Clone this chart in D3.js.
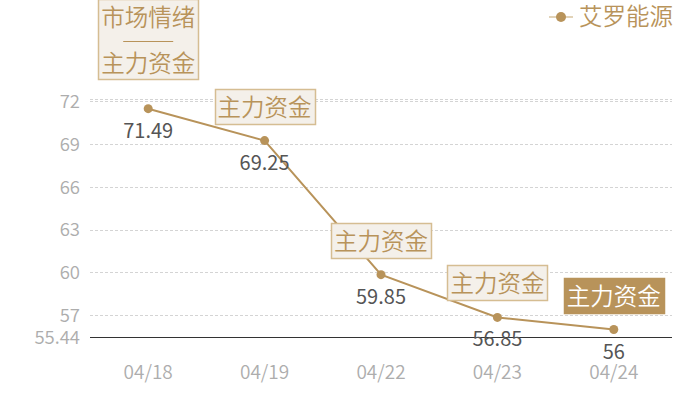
<!DOCTYPE html>
<html>
<head>
<meta charset="utf-8">
<script src="https://cdn.jsdelivr.net/npm/d3@7"></script>
<style>
  body { margin: 0; background: #fff; }
  text { font-family: "Noto Sans CJK SC", "Noto Sans", sans-serif; font-weight: 350; }
</style>
</head>
<body>
<script>
// Chart data
const dates = ['04/18', '04/19', '04/22', '04/23', '04/24'];
const values = [71.49, 69.25, 59.85, 56.85, 56];
const tags = [['市场情绪', '——', '主力资金'], ['主力资金'], ['主力资金'], ['主力资金'], ['主力资金']];
const yTicks = [57, 60, 63, 66, 69, 72];
const seriesName = '艾罗能源';

const width = 700, height = 400;
const margin = {left: 90, right: 28, top: 0, bottom: 63};
const gold = '#b8935a';

const svg = d3.select('body').append('svg')
  .attr('width', width)
  .attr('height', height);

// Axis range padded 1% around the data
const yMin = d3.min(values) * 0.99;
const yMax = d3.max(values) * 1.01;

const x = d3.scaleBand().domain(dates).range([margin.left, width - margin.right]);
const y = d3.scaleLinear().domain([yMin, yMax]).range([337.5, 98.5]);

// Grid lines
svg.append('g').selectAll('line')
  .data(yTicks.concat([yMax]))
  .join('line')
  .attr('x1', margin.left).attr('x2', width - margin.right)
  .attr('y1', d => Math.round(y(d)) + 0.5).attr('y2', d => Math.round(y(d)) + 0.5)
  .attr('stroke', '#d4d4d4')
  .attr('stroke-dasharray', '3,2');

// Y labels
svg.append('g').selectAll('text')
  .data(yTicks.concat([yMin]))
  .join('text')
  .attr('x', 80)
  .attr('y', d => y(d))
  .attr('dy', '0.36em')
  .attr('text-anchor', 'end')
  .attr('fill', '#adadad')
  .attr('font-size', 18.5)
  .text(d => d === yMin ? d3.format('.2f')(d) : d);

// Base axis line
svg.append('line')
  .attr('x1', margin.left).attr('x2', width - margin.right)
  .attr('y1', y(yMin)).attr('y2', y(yMin))
  .attr('stroke', '#333').attr('stroke-width', 1);

// X labels
svg.append('g').selectAll('text')
  .data(dates)
  .join('text')
  .attr('x', d => x(d) + x.bandwidth() / 2)
  .attr('y', 379)
  .attr('text-anchor', 'middle')
  .attr('fill', '#adadad')
  .attr('font-size', 19)
  .text(d => d);

const pts = dates.map((d, i) => ({date: d, v: values[i], tag: tags[i], i}));
const cx = d => x(d.date) + x.bandwidth() / 2;

// Series line
svg.append('path')
  .datum(pts)
  .attr('fill', 'none')
  .attr('stroke', gold)
  .attr('stroke-width', 2)
  .attr('d', d3.line().x(cx).y(d => y(d.v)));

svg.append('g').selectAll('circle')
  .data(pts)
  .join('circle')
  .attr('cx', cx).attr('cy', d => y(d.v))
  .attr('r', 4.5)
  .attr('fill', gold);

// Value labels under points
svg.append('g').selectAll('text')
  .data(pts)
  .join('text')
  .attr('x', cx)
  .attr('y', d => y(d.v) + 29)
  .attr('text-anchor', 'middle')
  .attr('fill', '#555')
  .attr('font-size', 20)
  .style('font-weight', 400)
  .text(d => d.v);

// Annotation boxes above points
pts.forEach(d => {
  const last = d.i === pts.length - 1;
  const n = d.tag.length;
  const w = 100;
  const gap = n > 1 ? 30 : 17;
  const bottom = Math.round(y(d.v) - gap);
  const top = bottom - (n > 1 ? 80 : 35);
  const g = svg.append('g');
  g.append('rect')
    .attr('x', Math.round(cx(d) - w / 2) + 0.5).attr('y', top + 0.5)
    .attr('width', w).attr('height', bottom - top)
    .attr('fill', last ? gold : '#f4f0ea')
    .attr('stroke', last ? gold : '#d5bd92')
    .attr('stroke-width', 1.5);
  if (n > 1) {
    g.append('text').attr('x', cx(d)).attr('y', top + 27)
      .attr('text-anchor', 'middle').attr('fill', gold).attr('font-size', 23.5)
      .text(d.tag[0]);
    g.append('line')
      .attr('x1', cx(d) - 25).attr('x2', cx(d) + 25)
      .attr('y1', top + 42.5).attr('y2', top + 42.5)
      .attr('stroke', gold).attr('stroke-width', 1.2);
    g.append('text').attr('x', cx(d)).attr('y', top + 73)
      .attr('text-anchor', 'middle').attr('fill', gold).attr('font-size', 23.5)
      .text(d.tag[2]);
  } else {
    g.append('text').attr('x', cx(d)).attr('y', top + 27)
      .attr('text-anchor', 'middle')
      .attr('fill', last ? '#fff' : gold)
      .attr('font-size', 23.5)
      .text(d.tag[0]);
  }
});

// Legend
const lg = svg.append('g').attr('transform', 'translate(549,17)');
lg.append('line').attr('x1', 0).attr('x2', 24).attr('stroke', '#d9c4a0').attr('stroke-width', 1.5);
lg.append('circle').attr('cx', 12).attr('r', 5).attr('fill', gold);
lg.append('text').attr('x', 30).attr('dy', '0.36em')
  .attr('fill', gold).attr('font-size', 23.5).text(seriesName);
</script>
</body>
</html>
